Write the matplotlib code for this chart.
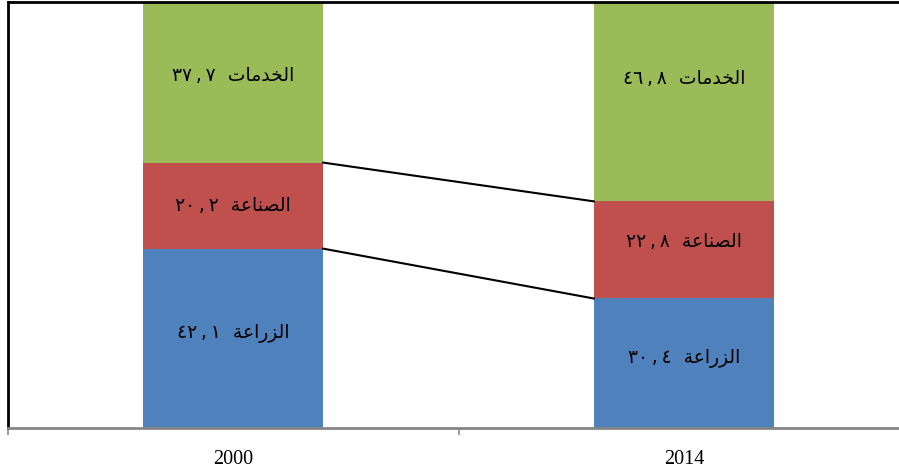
import numpy as np
import matplotlib.pyplot as plt

# data
years = ['2000', '2014']
sectors = ['الزراعة', 'الصناعة', 'الخدمات']
agri = [42.1, 30.4]
industry = [20.2, 22.8]
services = [37.7, 46.8]
colors = ['#4F81BD', '#C0504D', '#9BBB59']
# labels were nudged by hand in the original (y shift, in %)
label_shift = [[1.2, 1.2], [0, 2], [1.6, 5.5]]

# minimal arabic shaping: letter -> (isolated, final, initial, medial)
forms = {
    'ا': ('\uFE8D', '\uFE8E', None, None),
    'ل': ('\uFEDD', '\uFEDE', '\uFEDF', '\uFEE0'),
    'خ': ('\uFEA5', '\uFEA6', '\uFEA7', '\uFEA8'),
    'د': ('\uFEA9', '\uFEAA', None, None),
    'م': ('\uFEE1', '\uFEE2', '\uFEE3', '\uFEE4'),
    'ت': ('\uFE95', '\uFE96', '\uFE97', '\uFE98'),
    'ص': ('\uFEB9', '\uFEBA', '\uFEBB', '\uFEBC'),
    'ن': ('\uFEE5', '\uFEE6', '\uFEE7', '\uFEE8'),
    'ع': ('\uFEC9', '\uFECA', '\uFECB', '\uFECC'),
    'ة': ('\uFE93', '\uFE94', None, None),
    'ز': ('\uFEAF', '\uFEB0', None, None),
    'ر': ('\uFEAD', '\uFEAE', None, None),
}


def shape(word):
    out = []
    for i, ch in enumerate(word):
        prev_joins = i > 0 and forms[word[i - 1]][2] is not None
        next_exists = i < len(word) - 1
        iso, fin, ini, med = forms[ch]
        if prev_joins and next_exists and med:
            out.append(med)
        elif prev_joins:
            out.append(fin)
        elif next_exists and ini:
            out.append(ini)
        else:
            out.append(iso)
    return ''.join(reversed(out))


def arabic_num(v):
    s = ('%.1f' % v).replace('.', '\u2009,\u2009')
    return s.translate(str.maketrans('0123456789', '٠١٢٣٤٥٦٧٨٩'))


fig = plt.figure(figsize=(8.99, 4.72), dpi=100)
ax = fig.add_axes([7.5 / 899, 44 / 472, 902 / 899, 426 / 472])

x = np.arange(len(years))
w = 0.4
bottom = np.zeros(len(years))
series = [agri, industry, services]
for k, vals in enumerate(series):
    vals = np.array(vals)
    ax.bar(x, vals, w, bottom=bottom, color=colors[k], zorder=2)
    for i in range(len(years)):
        ax.text(x[i], bottom[i] + vals[i] / 2 + label_shift[k][i],
                arabic_num(vals[i]) + '  ' + shape(sectors[k]),
                ha='center', va='center', fontsize=13.5, family='DejaVu Sans')
    bottom = bottom + vals
    if k < len(series) - 1:
        ax.plot([x[0] + w / 2, x[1] - w / 2], [bottom[0], bottom[1]],
                color='black', lw=1.5, zorder=3)

ax.set_xlim(-0.5, 1.5)
ax.set_ylim(0, 100)
ax.set_yticks([])
ax.set_xticks([-0.5, 0.5, 1.5])
ax.set_xticklabels([])
ax.tick_params(axis='x', which='major', length=5, width=1.2, color='#868686')
ax.set_xticks(x, minor=True)
ax.set_xticklabels(years, minor=True, fontsize=14.5, family='Liberation Serif')
ax.tick_params(axis='x', which='minor', length=0, pad=16)

ax.spines['right'].set_visible(False)
ax.spines['bottom'].set_color('#868686')
ax.spines['bottom'].set_linewidth(2)
ax.spines['left'].set_linewidth(2)
ax.spines['top'].set_linewidth(2)

plt.savefig('out.png', dpi=100)
